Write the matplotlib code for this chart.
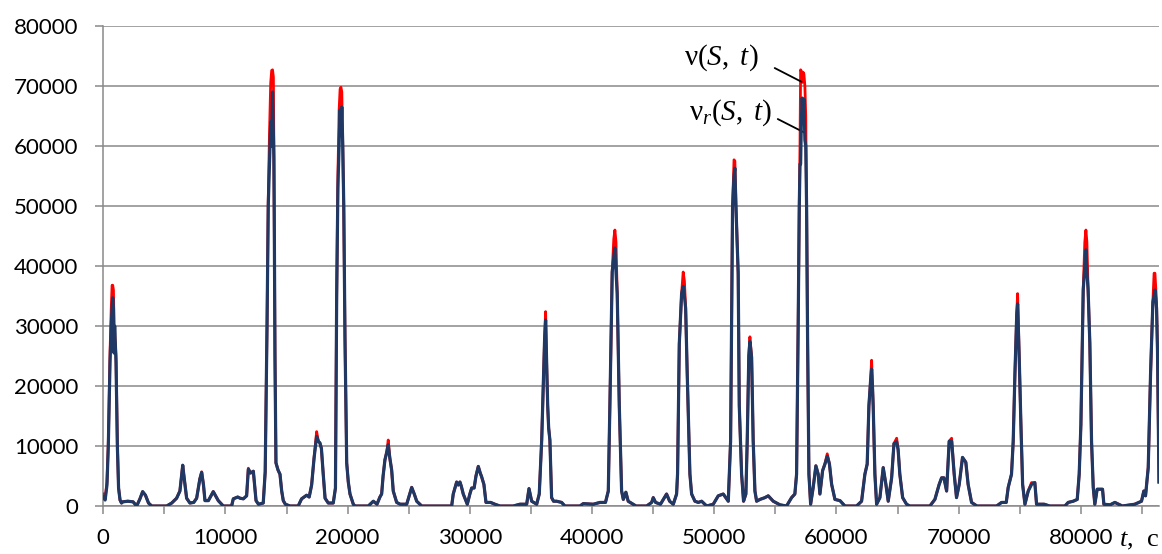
import matplotlib

matplotlib.use("Agg")
import matplotlib.pyplot as plt

# time, s
t_sec = [
    0, 150, 300, 410, 550, 650, 720, 770, 830, 880, 930, 1040, 1150, 1250, 1370, 1490,
    1600, 2000, 2440, 2730, 3000, 3220, 3450, 3700, 3960, 5190, 5600, 6000, 6270, 6400,
    6500, 6600, 6820, 7090, 7400, 7640, 7900, 8050, 8200, 8320, 8600, 9000, 9410, 9820,
    10500, 10640, 11000, 11200, 11460, 11730, 11870, 12050, 12280, 12500, 12700, 13090,
    13250, 13400, 13500, 13600, 13700, 13780, 13850, 13920, 13960, 14000, 14050, 14130,
    14300, 14460, 14600, 14730, 14900, 15280, 15950, 16230, 16640, 16850, 17050, 17250,
    17460, 17600, 17730, 17850, 18000, 18150, 18410, 18820, 19000, 19100, 19200, 19300,
    19380, 19450, 19520, 19600, 19680, 19780, 19920, 20050, 20190, 20460, 20600, 21690,
    22100, 22400, 22640, 22780, 22900, 23050, 23200, 23320, 23450, 23600, 23730, 24010,
    24300, 24830, 25050, 25240, 25450, 25650, 26060, 28510, 28640, 28920, 29050, 29190,
    29300, 29460, 29790, 30000, 30150, 30350, 30500, 30690, 30850, 30960, 31150, 31320,
    31700, 32050, 32460, 33550, 34100, 34650, 34840, 35060, 35470, 35680, 35880, 36000,
    36120, 36200, 36280, 36370, 36450, 36550, 36690, 36850, 37100, 37510, 37780, 39010,
    39280, 40100, 40650, 41100, 41330, 41460, 41650, 41780, 41870, 41960, 42060, 42230,
    42420, 42560, 42770, 42960, 43370, 43600, 44470, 44880, 45010, 45200, 45600, 46100,
    46350, 46650, 46920, 47000, 47140, 47330, 47460, 47560, 47660, 47790, 48010, 48150,
    48420, 48700, 48970, 49380, 49920, 50330, 50740, 51150, 51340, 51500, 51620, 51690,
    51780, 51880, 51960, 52050, 52240, 52400, 52590, 52700, 52830, 52920, 53060, 53190,
    53330, 53470, 53740, 54150, 54420, 54830, 55380, 55920, 56330, 56600, 56740, 56870,
    56960, 57020, 57070, 57130, 57200, 57270, 57340, 57420, 57490, 57560, 57640, 57750,
    57890, 58100, 58320, 58510, 58650, 58870, 59060, 59250, 59430, 59610, 59880, 60290,
    60700, 61650, 62060, 62330, 62520, 62660, 62800, 62880, 62950, 63010, 63150, 63290,
    63560, 63830, 64050, 64240, 64520, 64710, 64930, 65050, 65190, 65420, 65740, 66000,
    67650, 68060, 68410, 68610, 68800, 69020, 69230, 69430, 69640, 69830, 70050, 70320,
    70590, 70780, 71060, 71500, 73110, 73520, 73900, 74060, 74330, 74470, 74610, 74760,
    74830, 74960, 75100, 75240, 75430, 75700, 75970, 76240, 76380, 77000, 77460, 78700,
    78970, 79380, 79710, 79870, 80010, 80200, 80330, 80420, 80500, 80600, 80740, 80880,
    81020, 81150, 81340, 81780, 81890, 82400, 82790, 83100, 83400, 84420, 84970, 85160,
    85300, 85520, 85710, 85900, 86000, 86070, 86200, 86280, 86400,
]

# nu_r(S, t), thousands
nu_r_k = [
    1.5, 1.0, 3.5, 10, 24, 30, 33, 34.7, 33, 25.5, 30, 24, 10, 3, 1, 0.5,
    0.7, 0.8, 0.7, 0, 1.2, 2.4, 1.8, 0.5, 0, 0, 0.5, 1.3, 2.5, 5,
    6.8, 5, 1.3, 0.5, 0.6, 1.3, 4.5, 5.6, 3.5, 0.9, 0.9, 2.4, 0.9, 0,
    0, 1.2, 1.5, 1.3, 1.2, 1.7, 6.1, 5.5, 5.8, 0.9, 0.3, 0.5,
    5.7, 30, 50, 57, 64, 60, 69, 62, 58, 45, 25, 7.2,
    6, 5.3, 2.5, 0.9, 0.3, 0, 0, 1.2, 1.8, 1.5, 3.5, 8,
    11.6, 10.8, 10.5, 9.6, 5.3, 1.3, 0.5, 0.5, 3, 35, 53, 60,
    66, 62, 66.5, 60, 50, 28, 7.2, 4, 2, 0.3, 0, 0,
    0.8, 0.3, 1.5, 2, 5, 7.7, 9, 10.2, 8, 6, 2.5, 0.6,
    0.3, 0.3, 1.8, 3.1, 2, 0.8, 0, 0, 2, 4, 3.5, 4,
    3.3, 2, 0.3, 2, 3, 3, 5, 6.6, 5.5, 4.9, 3.6, 0.6,
    0.6, 0.3, 0, 0, 0.3, 0.3, 2.9, 0.8, 0.3, 2, 11, 19.3,
    28, 31, 24, 16.7, 13, 11, 1.4, 0.8, 0.8, 0.6, 0, 0,
    0.4, 0.3, 0.6, 0.6, 2.5, 16.7, 39, 41.5, 43, 39, 35.4, 16.7,
    2.5, 1.1, 2.3, 0.8, 0.3, 0, 0, 0.6, 1.4, 0.6, 0.3, 2,
    0.8, 0.3, 2, 5.4, 27, 35.4, 36.6, 35, 33, 22, 5.3, 2,
    0.8, 0.6, 0.8, 0, 0.3, 1.7, 2, 0.8, 10.8, 49.8, 55, 56.3,
    49.7, 43.8, 38.8, 16.7, 5.3, 0.8, 2, 10.8, 25, 27.4, 24.8, 10.8,
    2.5, 0.8, 1.1, 1.4, 1.7, 0.8, 0.2, 0, 1.4, 2, 5.3, 30,
    49.8, 57, 57, 64, 68, 64.8, 67.8, 61, 60, 49.8, 28, 5.3,
    0.3, 3.1, 6.7, 5.3, 2, 5.9, 7, 8.3, 7, 3.6, 1.1, 0.9,
    0, 0, 0.8, 5.3, 7, 16.7, 21, 22.8, 20, 16.7, 5.3, 0.3,
    1.4, 6.4, 3.6, 0.8, 4.7, 10.4, 10.7, 9.4, 5.3, 1.4, 0.3, 0,
    0, 1.1, 3.6, 4.7, 4.7, 2.5, 10.8, 10.8, 5.3, 1.4, 3.6, 8.1,
    7.3, 3.6, 0.6, 0, 0, 0.6, 0.6, 3.1, 5.3, 10.8, 22, 32,
    33.7, 24.8, 13.6, 3.6, 0.3, 2.5, 3.6, 3.9, 0.3, 0.3, 0, 0,
    0.6, 0.8, 1.1, 5.3, 13.6, 36, 40, 42.7, 39, 36, 27.2, 10.8,
    3.1, 0.3, 2.8, 2.8, 0.3, 0.2, 0.6, 0.3, 0, 0.3, 0.8, 2.5,
    1.7, 6.4, 22, 34, 35, 36, 33, 25.8, 4,
]

# nu(S, t), thousands
nu_k = [
    2.0, 1.2, 4, 10.5, 25.5, 33, 36.8, 36.8, 36, 30, 29, 25, 10.5, 3, 1, 0.5,
    0.7, 0.8, 0.7, 0, 1.2, 2.4, 1.8, 0.5, 0, 0, 0.5, 1.3, 2.5, 5,
    6.8, 5, 1.3, 0.5, 0.6, 1.3, 4.5, 5.7, 3.5, 0.9, 0.9, 2.4, 0.9, 0,
    0, 1.2, 1.5, 1.3, 1.2, 1.7, 6.3, 5.5, 5.8, 0.9, 0.3, 0.5,
    5.7, 30, 51, 62, 70.5, 72.6, 72.7, 71.5, 60, 45, 25, 7.2,
    6, 5.3, 2.5, 0.9, 0.3, 0, 0, 1.2, 1.8, 1.5, 3.5, 8,
    12.4, 10.8, 10.5, 9.6, 5.3, 1.3, 0.5, 0.5, 3, 35, 55, 66,
    69.5, 69.8, 69, 60, 50, 28, 7.2, 4, 2, 0.3, 0, 0,
    0.8, 0.3, 1.5, 2, 5, 7.7, 9, 11, 8, 6, 2.5, 0.6,
    0.3, 0.3, 1.8, 3.1, 2, 0.8, 0, 0, 2, 4, 3.5, 4,
    3.3, 2, 0.3, 2, 3, 3, 5, 6.6, 5.5, 4.9, 3.6, 0.6,
    0.6, 0.3, 0, 0, 0.3, 0.3, 2.9, 0.8, 0.3, 2, 11, 19.3,
    28, 32.4, 24, 16.7, 13, 11, 1.4, 0.8, 0.8, 0.6, 0, 0,
    0.4, 0.3, 0.6, 0.6, 2.5, 16.7, 39, 44.5, 46, 44, 35.4, 16.7,
    2.5, 1.1, 2.3, 0.8, 0.3, 0, 0, 0.6, 1.4, 0.6, 0.3, 2,
    0.8, 0.3, 2, 5.4, 27, 35.4, 39, 37.5, 33, 22, 5.3, 2,
    0.8, 0.6, 0.8, 0, 0.3, 1.7, 2, 0.8, 10.8, 49.8, 57.7, 57.5,
    50, 43.8, 38.8, 16.7, 5.3, 0.8, 2, 10.8, 25, 28.2, 24.8, 10.8,
    2.5, 0.8, 1.1, 1.4, 1.7, 0.8, 0.2, 0, 1.4, 2, 5.3, 30,
    49.8, 60, 72.7, 72.5, 70.6, 72.3, 72, 70, 65, 49.8, 28, 5.3,
    0.3, 3.1, 6.7, 5.3, 2, 5.9, 7, 8.7, 7, 3.6, 1.1, 0.9,
    0, 0, 0.8, 5.3, 7, 16.7, 21, 24.3, 20, 16.7, 5.3, 0.3,
    1.4, 6.4, 3.6, 0.8, 4.7, 10.4, 11.3, 9.4, 5.3, 1.4, 0.3, 0,
    0, 1.1, 3.6, 4.7, 4.7, 2.5, 10.8, 11.3, 5.3, 1.4, 3.6, 8.1,
    7.3, 3.6, 0.6, 0, 0, 0.6, 0.6, 3.1, 5.3, 10.8, 22, 32,
    35.4, 24.8, 13.6, 3.6, 0.3, 2.5, 3.9, 3.9, 0.3, 0.3, 0, 0,
    0.6, 0.8, 1.1, 5.3, 13.6, 36, 44, 46, 44, 36, 27.2, 10.8,
    3.1, 0.3, 2.8, 2.8, 0.3, 0.2, 0.6, 0.3, 0, 0.3, 0.8, 2.5,
    1.7, 6.4, 22, 34, 38.8, 38.8, 34, 25.8, 4,
]

x_ticks = list(range(0, 86401, 5000))
x_labels = [str(v) if v % 10000 == 0 else "" for v in x_ticks]
y_ticks = list(range(0, 80001, 10000))

nu = [v * 1000 for v in nu_k]
nu_r = [v * 1000 for v in nu_r_k]

plt.rcParams["mathtext.fontset"] = "custom"
plt.rcParams["mathtext.rm"] = "Liberation Serif"
plt.rcParams["mathtext.it"] = "Liberation Serif:italic"

grid_color = "#898989"

fig = plt.figure(figsize=(11.62, 5.54), dpi=100)
ax = fig.add_axes([0.0889, 0.0866, 0.9085, 0.8664])

ax.plot(t_sec, nu, color="#ff0000", lw=2.0, zorder=3)
ax.plot(t_sec, nu_r, color="#1f3864", lw=2.3, zorder=4)

ax.set_xlim(0, 86400)
ax.set_ylim(0, 80000)
ax.set_xticks(x_ticks)
ax.set_xticklabels(x_labels)
ax.set_yticks(y_ticks)
ax.set_yticklabels([str(v) for v in y_ticks])

for lab in ax.get_xticklabels() + ax.get_yticklabels():
    lab.set_fontfamily("Lato")
    lab.set_fontsize(16)

ax.grid(axis="y", color=grid_color, lw=1.1)
ax.set_axisbelow(True)
for side in ["top", "right"]:
    ax.spines[side].set_visible(False)
for side in ["left", "bottom"]:
    ax.spines[side].set_color(grid_color)
    ax.spines[side].set_linewidth(1.1)
ax.tick_params(axis="both", color=grid_color, width=1.1, length=6)
ax.tick_params(axis="y", pad=12)
ax.tick_params(axis="x", pad=10)

# curve labels
ax.text(53600, 74800, r"$\mathrm{\nu}(S,\ t)$", fontsize=21, ha="right",
        va="center", color="black")
ax.text(54800, 65600, r"$\mathrm{\nu}_r(S,\ t)$", fontsize=21, ha="right",
        va="center", color="black")
ax.annotate("", xy=(57150, 70700), xytext=(54950, 73000),
            arrowprops=dict(arrowstyle="-", color="black", lw=1.3,
                            shrinkA=0, shrinkB=0))
ax.annotate("", xy=(57420, 62200), xytext=(55200, 64500),
            arrowprops=dict(arrowstyle="-", color="black", lw=1.3,
                            shrinkA=0, shrinkB=0))

ax.text(1.0, -0.05, r"$t$,  c", transform=ax.transAxes, fontsize=19,
        family="Liberation Serif", ha="right", va="top")

fig.savefig("out.png", dpi=100)
